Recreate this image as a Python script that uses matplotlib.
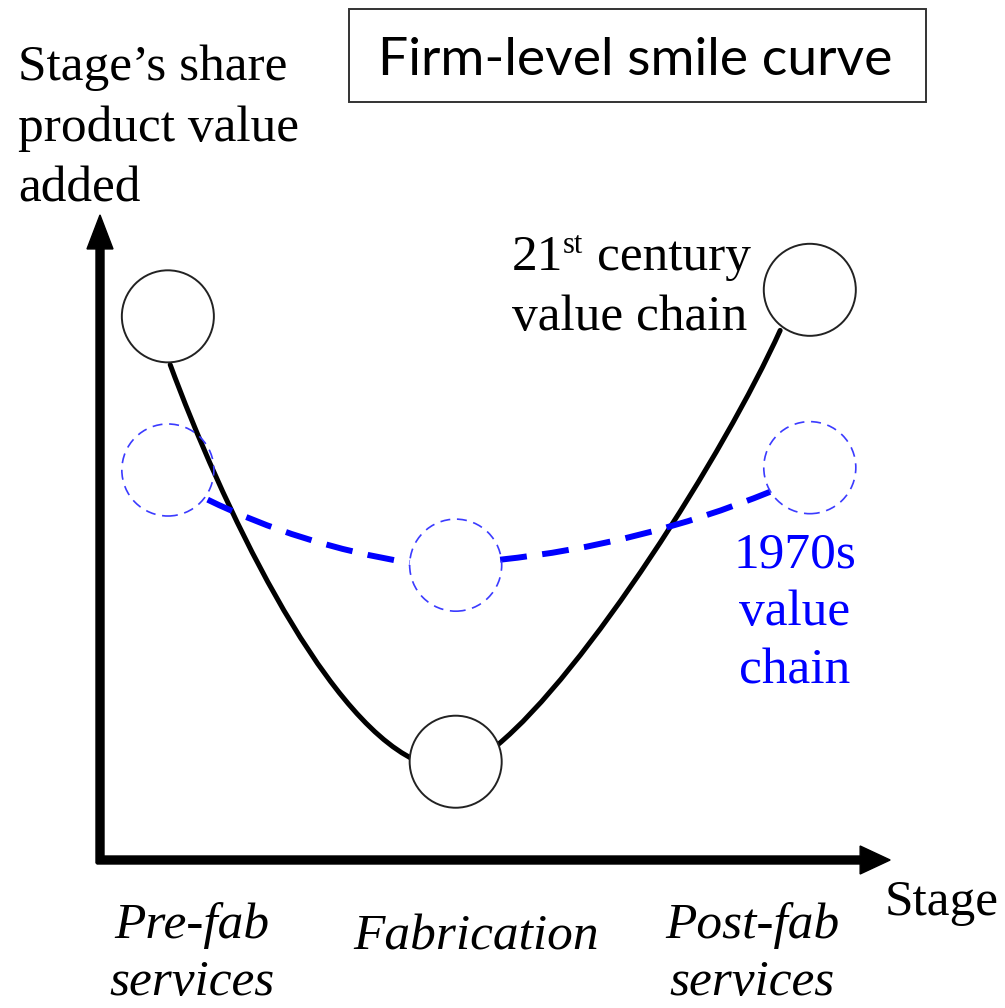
import matplotlib
matplotlib.use("Agg")
import matplotlib.pyplot as plt
from matplotlib.patches import Circle, Rectangle, PathPatch
from matplotlib.path import Path

# stage positions along the x axis and value-added shares (1 unit = 78 px)
STAGES = ["Pre-fab\nservices", "Fabrication", "Post-fab\nservices"]
STAGE_X = [0.87, 4.56, 9.10]
VA_21ST = [6.97, 1.26, 7.31]
VA_1970S = [5.00, 3.78, 5.03]
CIRCLE_R = 0.59

# bezier knots of the connecting curves (start, controls, end)
CURVE_21ST = [
    [(0.90, 6.35), (1.54, 4.62), (2.82, 1.86), (4.04, 1.28)],
    [(5.09, 1.47), (6.22, 2.40), (8.00, 5.20), (8.72, 6.79)],
]
CURVE_1970S = [
    [(1.38, 4.62), (2.56, 4.04), (3.97, 3.81)],
    [(5.13, 3.85), (6.92, 4.04), (8.59, 4.72)],
]

SERIF = ["Liberation Serif", "DejaVu Serif"]
BLUE = "#0000ff"
W, H = 1005, 1008
OX, OY, UNIT = 100, 860, 78.0


def P(x, y):
    # pixel position -> data coords (layout only)
    return (x - OX) / UNIT, (OY - y) / UNIT


fig = plt.figure(figsize=(W / 100, H / 100), dpi=100)
ax = fig.add_axes([0, 0, 1, 1])
ax.set_xlim(-OX / UNIT, (W - OX) / UNIT)
ax.set_ylim(-(H - OY) / UNIT, OY / UNIT)
ax.axis("off")

# axes arrows
ax.arrow(0, -0.04, 0, 8.31, width=8 / UNIT, head_width=26 / UNIT, head_length=34 / UNIT,
         length_includes_head=True, color="black", zorder=3)
ax.arrow(-0.04, 0, 10.17, 0, width=8 / UNIT, head_width=28 / UNIT, head_length=30 / UNIT,
         length_includes_head=True, color="black", zorder=3)

# 21st century curve
for seg in CURVE_21ST:
    codes = [Path.MOVETO, Path.CURVE4, Path.CURVE4, Path.CURVE4]
    ax.add_patch(PathPatch(Path(seg, codes), fill=False, lw=3.6, ec="black",
                           capstyle="round", zorder=2))

# 1970s curve
for seg in CURVE_1970S:
    codes = [Path.MOVETO, Path.CURVE3, Path.CURVE3]
    ax.add_patch(PathPatch(Path(seg, codes), fill=False, lw=4.3, ec=BLUE,
                           linestyle=(0, (4.5, 2.6)), capstyle="butt", zorder=2))

for x, y in zip(STAGE_X, VA_1970S):
    ax.add_patch(Circle((x, y), CIRCLE_R, fill=False, ec="#3b3bff", lw=1.2,
                        linestyle=(0, (6, 4)), zorder=2))
for x, y in zip(STAGE_X, VA_21ST):
    ax.add_patch(Circle((x, y), CIRCLE_R, fc="white", ec="#222222", lw=1.4, zorder=4))

# title box
x0, y0 = P(349, 102)
x1, y1 = P(926, 9)
ax.add_patch(Rectangle((x0, y0), x1 - x0, y1 - y0, fill=False, ec="#333333", lw=1.4))
ax.text(*P(635, 75), "Firm-level smile curve", family=["Lato", "DejaVu Sans"],
        fontsize=38.5, ha="center", va="baseline")

# y axis label
for txt, yb in zip(["Stage\u2019s share", "product value", "added"], [80, 141, 202]):
    ax.text(*P(18, yb), txt, family=SERIF, fontsize=37, ha="left", va="baseline")

# 21st century label
ax.text(*P(512, 270), "21", family=SERIF, fontsize=37, ha="left", va="baseline")
ax.text(*P(563, 253), "st", family=SERIF, fontsize=22, ha="left", va="baseline")
ax.text(*P(597, 270), "century", family=SERIF, fontsize=37, ha="left", va="baseline")
ax.text(*P(512, 330), "value chain", family=SERIF, fontsize=37, ha="left", va="baseline")

# 1970s label
for txt, yb in zip(["1970s", "value", "chain"], [567, 625, 683]):
    ax.text(*P(795, yb), txt, family=SERIF, fontsize=37, color=BLUE, ha="center", va="baseline")

ax.text(*P(885, 915), "Stage", family=SERIF, fontsize=37, ha="left", va="baseline")

# stage labels
label_x = [192, 476, 752]
label_base = [938, 950, 938]
for lab, lx, lb in zip(STAGES, label_x, label_base):
    for i, line in enumerate(lab.split("\n")):
        ax.text(*P(lx, lb + 57 * i), line, family=SERIF, style="italic", fontsize=37,
                ha="center", va="baseline")

fig.savefig("out.png", dpi=100)
